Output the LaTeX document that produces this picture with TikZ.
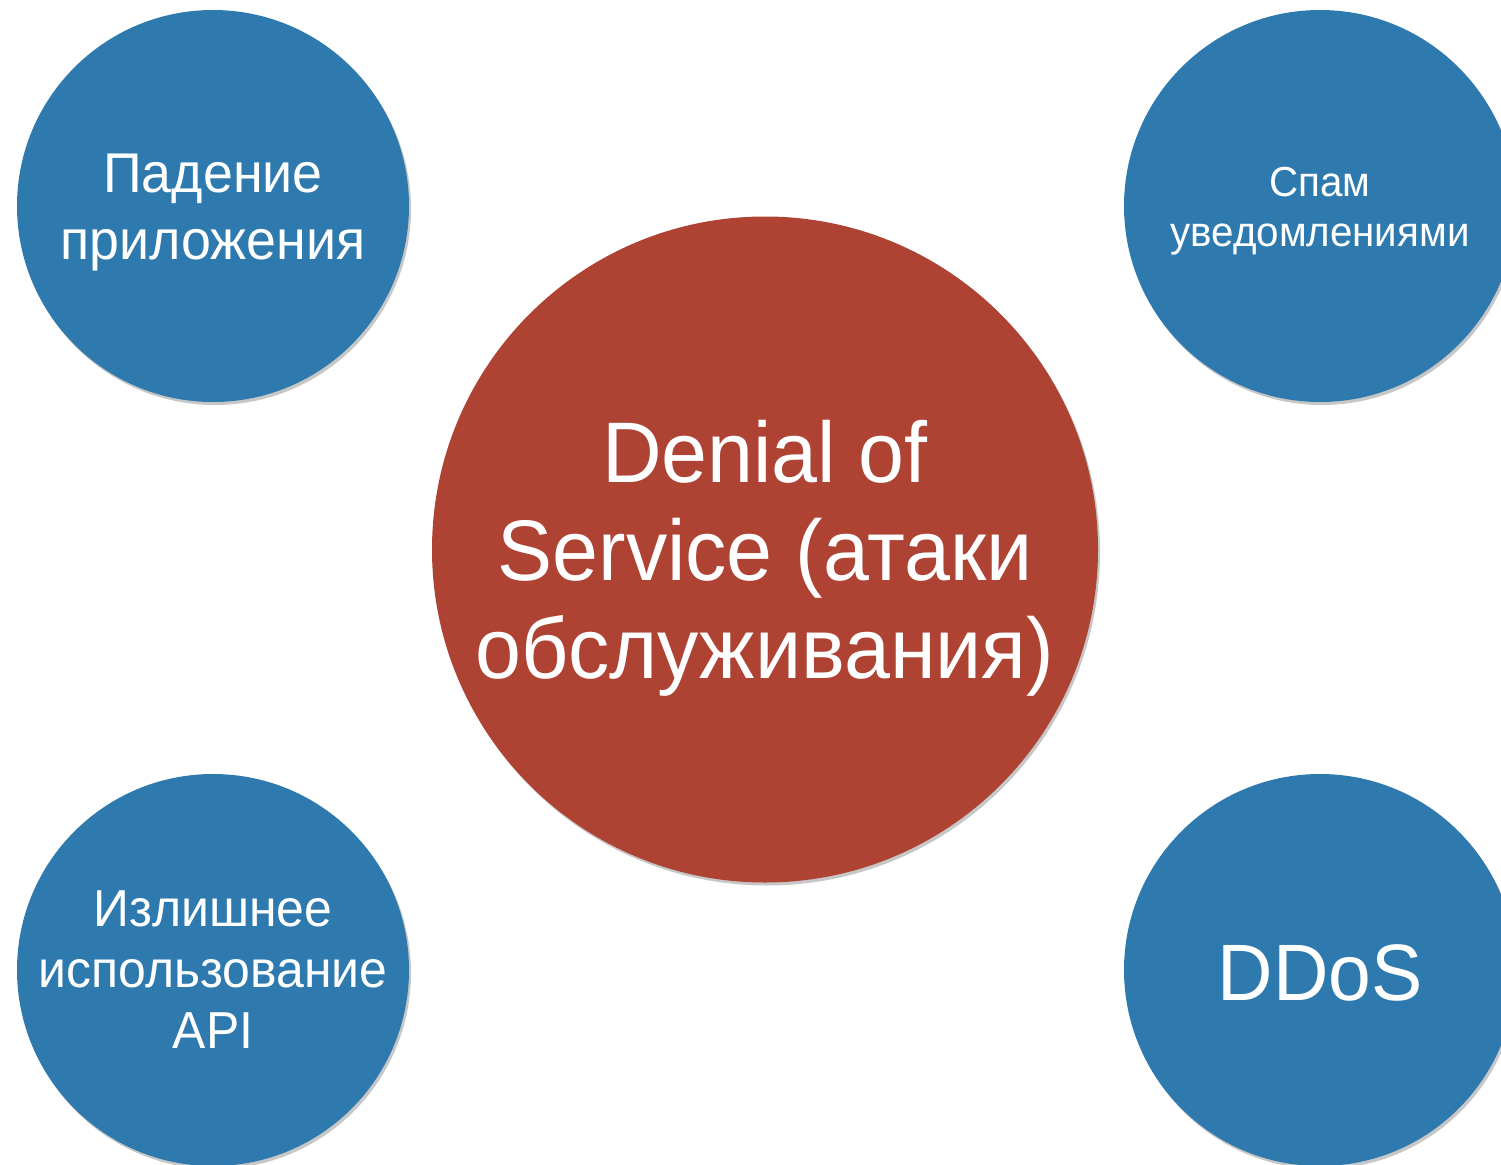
\documentclass[tikz,border=0pt]{standalone}
\usepackage{fontspec}
\setmainfont[FakeStretch=0.96]{Liberation Sans}
\usetikzlibrary{shadows,calc}
\definecolor{bubbleblue}{RGB}{46,122,175}
\definecolor{bubblered}{RGB}{174,66,51}
\tikzset{
  bubble/.style={circle, fill=bubbleblue, inner sep=0pt, minimum size=392pt,
    drop shadow={shadow xshift=2pt, shadow yshift=-3pt, opacity=0.22, fill=black}},
  bigbubble/.style={circle, fill=bubblered, inner sep=0pt, minimum size=666pt,
    drop shadow={shadow xshift=2pt, shadow yshift=-3pt, opacity=0.22, fill=black}},
  txt/.style={text=white, align=center, inner sep=0pt}
}
\begin{document}
\begin{tikzpicture}[x=1pt,y=-1pt]
\fill[white] (0,0) rectangle (1501,1164);
\useasboundingbox (0,0) rectangle (1501,1164);
\node[bigbubble] (dos) at (765,549.5) {};
\node[bubble] (tl) at (213,206) {};
\node[bubble] (tr) at (1320,206) {};
\node[bubble] (bl) at (213,970) {};
\node[bubble] (br) at (1320,970) {};
\node[txt, font=\fontsize{86}{98}\selectfont] (dost) at ($(dos)+(0,8.5)$) {Denial of\\Service (атаки\\обслуживания)};
\node[txt, font=\fontsize{56}{67}\selectfont] (tlt) at ($(tl)+(0,7)$) {Падение\\приложения};
\node[txt, font=\fontsize{42}{50}\selectfont] (trt) at ($(tr)+(0,5.4)$) {Спам\\уведомлениями};
\node[txt, font=\fontsize{52}{61}\selectfont] (blt) at ($(bl)+(0,0)$) {Излишнее\\использование\\API};
\node[txt, font=\fontsize{80}{96}\selectfont] (brt) at ($(br)+(0,3)$) {DDoS};
\end{tikzpicture}
\end{document}
